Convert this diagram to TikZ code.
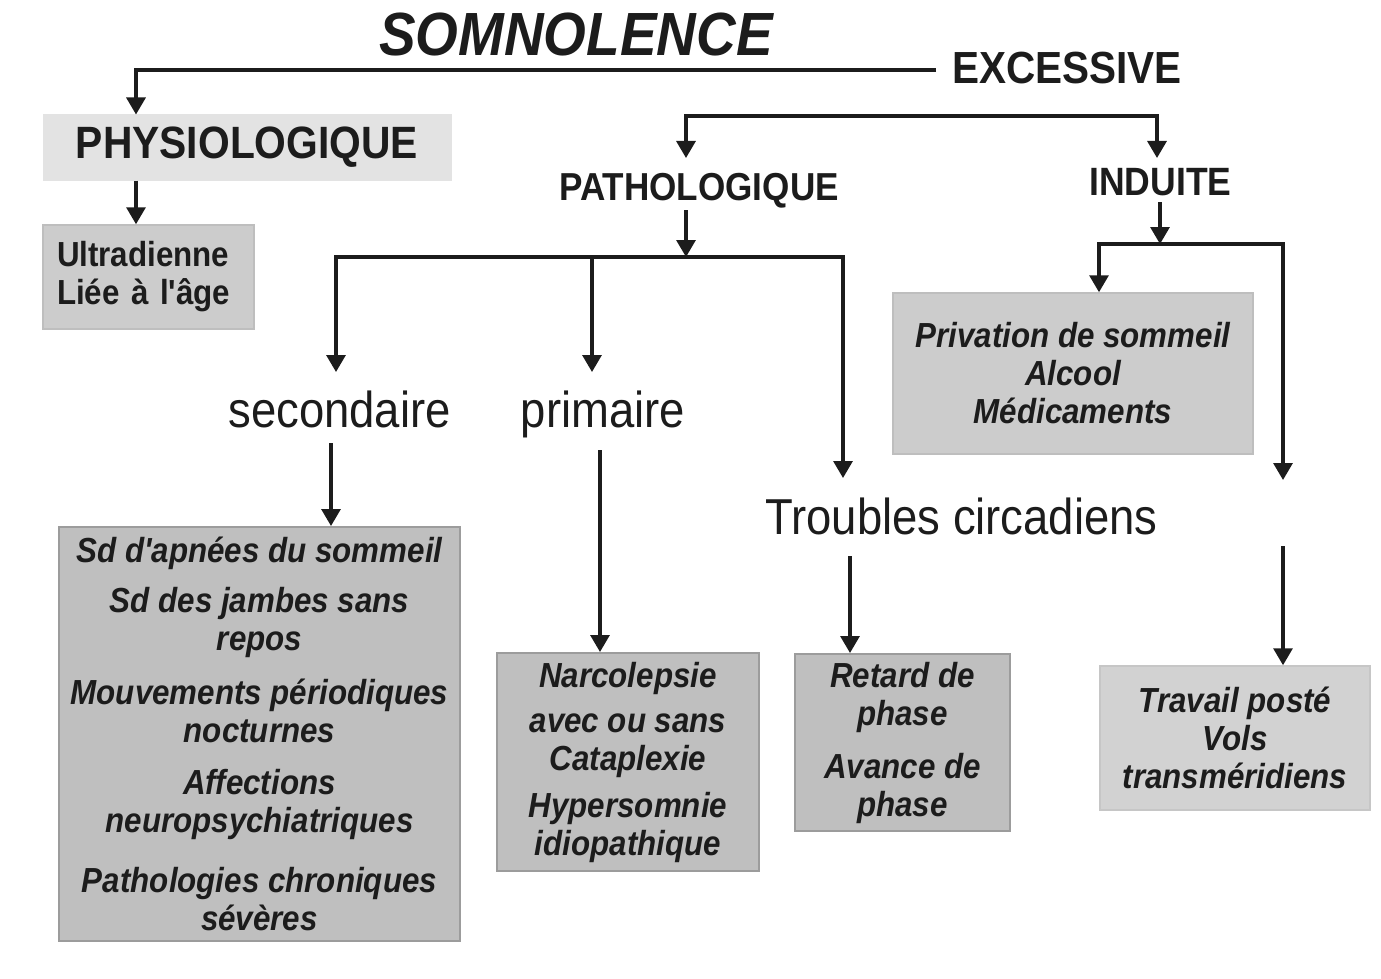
\documentclass[tikz,border=0pt]{standalone}
\usepackage{fontspec}
\setmainfont{Liberation Sans}[FakeStretch=0.9, Ligatures=TeXOff]
\usetikzlibrary{arrows.meta}
\definecolor{ink}{HTML}{1C1C1C}
\definecolor{fillA}{HTML}{E3E3E3}
\definecolor{fillB}{HTML}{CCCCCC}
\definecolor{fillC}{HTML}{BFBFBF}
\definecolor{fillD}{HTML}{D2D2D2}
\definecolor{lineB}{HTML}{BEBEBE}
\definecolor{lineC}{HTML}{9C9C9C}
\definecolor{lineD}{HTML}{C6C6C6}
\begin{document}
\begin{tikzpicture}[x=1pt,y=-1pt,
  >={Triangle[width=19pt,length=17pt]},
  conn/.style={line width=3.2pt, draw=ink, line join=miter},
  capslbl/.style={inner sep=0pt, anchor=base, text=ink, font={\fontsize{#1}{#1}\selectfont\bfseries}},
  biglbl/.style={inner sep=0pt, anchor=base, text=ink, font={\fontsize{50.5}{55}\selectfont}},
  boxtxt/.style={text=ink, align=center, inner sep=0pt, font={\fontsize{34.8}{38}\selectfont\bfseries\itshape}},
  boxA/.style={fill=fillA, draw=fillA, line width=1pt, text=ink, inner sep=0pt, font={\fontsize{45.3}{45.3}\selectfont\bfseries}},
  boxB/.style={boxtxt, fill=fillB, draw=lineB, line width=1.5pt},
  boxC/.style={boxtxt, fill=fillC, draw=lineC, line width=2pt},
  boxD/.style={boxtxt, fill=fillD, draw=lineD, line width=1.5pt}
]
\useasboundingbox (0,0) rectangle (1381,979);

% titles
\node[capslbl=61, font={\fontsize{61}{61}\selectfont\bfseries\itshape}] (som) at (576,56) {SOMNOLENCE};
\node[capslbl=45, anchor=base west] (exc) at (952,84) {EXCESSIVE};

% boxes and labels
\node[boxA, minimum width=408pt, minimum height=65pt] (phys) at (247,147.5) {PHYSIOLOGIQUE};
\node[boxB, align=left, text width=183pt, inner xsep=14pt, minimum width=211pt, minimum height=104pt,
      font={\fontsize{34.8}{38}\selectfont\bfseries}] (ultra) at (148.5,277) {Ultradienne\\ Liée à l'âge};

\node[capslbl=39] (path) at (699,200) {PATHOLOGIQUE};
\node[capslbl=39.5] (ind) at (1160.5,195) {INDUITE};

\node[boxB, minimum width=360pt, minimum height=161pt] (priv) at (1073,373.5)
  {Privation de sommeil\\ Alcool\\ Médicaments};

\node[biglbl] (sec) at (339.5,427) {secondaire};
\node[biglbl] (prim) at (603,427) {primaire};
\node[biglbl] (tro) at (961.5,534) {Troubles circadiens};

\node[boxC, minimum width=401pt, minimum height=414pt] (sbox) at (259.5,734)
  {Sd d'apnées du sommeil\\[12pt] Sd des jambes sans\\ repos\\[16pt] Mouvements périodiques\\ nocturnes\\[14pt] Affections\\ neuropsychiatriques\\[22pt] Pathologies chroniques\\ sévères};
\node[boxC, minimum width=262pt, minimum height=218pt] (narc) at (628,762)
  {Narcolepsie\\[7pt] avec ou sans\\ Cataplexie\\[9pt] Hypersomnie\\ idiopathique};
\node[boxC, minimum width=215pt, minimum height=177pt] (ret) at (902.5,742.5)
  {Retard de\\ phase\\[15pt] Avance de\\ phase};
\node[boxD, minimum width=270pt, minimum height=144pt] (trav) at (1235,738)
  {Travail posté\\ Vols\\ transméridiens};

% helper coordinates
\coordinate (excL) at ([xshift=-16pt,yshift=14pt]exc.base west);
\coordinate (physN) at ([xshift=-111pt]phys.north);
\coordinate (physS) at ([xshift=-111pt]phys.south);
\coordinate (pathT) at ([xshift=-13pt,yshift=42pt]path.base);
\coordinate (indT) at ([xshift=-3.5pt,yshift=37pt]ind.base);
\coordinate (brk) at (0,116);
\coordinate (pathB) at ([xshift=-13pt,yshift=-10pt]path.base);
\coordinate (split1) at (0,257);
\coordinate (secT) at ([xshift=-3.5pt,yshift=55pt]sec.base);
\coordinate (priT) at ([xshift=-11pt,yshift=55pt]prim.base);
\coordinate (troT) at ([xshift=-118.5pt,yshift=56pt]tro.base);
\coordinate (secB) at ([xshift=-8.5pt,yshift=-16pt]sec.base);
\coordinate (priB) at ([xshift=-3pt,yshift=-23pt]prim.base);
\coordinate (troB) at ([xshift=-111.5pt,yshift=-22pt]tro.base);
\coordinate (indB) at ([xshift=-0.5pt,yshift=-7pt]ind.base);
\coordinate (split2) at (0,244);
\coordinate (privN) at ([xshift=26pt]priv.north);
\coordinate (rT) at (1283,480);
\coordinate (rB) at (1283,546);

% connectors
\draw[conn,->] (excL) -| (physN);
\draw[conn,->] (physS) -- (physS |- ultra.north);
\draw[conn,<->] (pathT) -- (pathT |- brk) -- (indT |- brk) -- (indT);
\draw[conn,->] (pathB) -- (pathB |- split1);
\draw[conn,->] (pathB |- split1) -| (secT);
\draw[conn,->] (pathB |- split1) -| (troT);
\draw[conn,->] (priT |- split1) -- (priT);
\draw[conn,->] (secB) -- (secB |- sbox.north);
\draw[conn,->] (priB) -- (priB |- narc.north);
\draw[conn,->] (troB) -- (troB |- ret.north);
\draw[conn,->] (indB) -- (indB |- split2);
\draw[conn,->] (indB |- split2) -| (privN);
\draw[conn,->] (indB |- split2) -| (rT);
\draw[conn,->] (rB) -- (rB |- trav.north);
\end{tikzpicture}
\end{document}
